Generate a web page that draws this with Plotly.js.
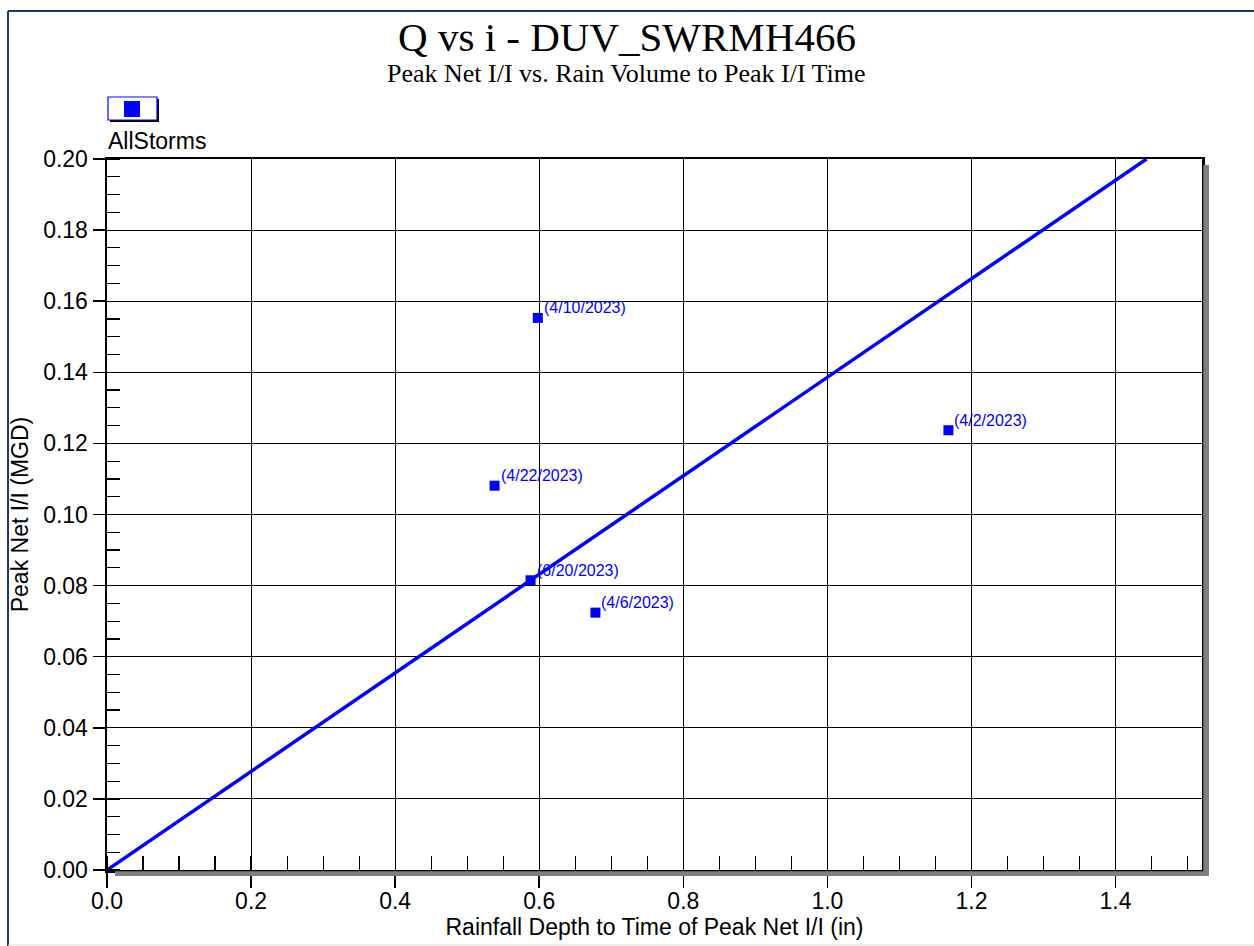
<!DOCTYPE html>
<html>
<head>
<meta charset="utf-8">
<script src="https://cdn.plot.ly/plotly-3.0.1.min.js"></script>
<style>
  html, body { margin: 0; padding: 0; background: #ffffff; }
  #chart { width: 1254px; height: 946px; }
</style>
</head>
<body>
<div id="chart"></div>
<script>
// ---- data ----
const stormLabels = ["(4/10/2023)", "(4/2/2023)", "(4/22/2023)", "(6/20/2023)", "(4/6/2023)"];
const rainDepth   = [0.598, 1.168, 0.538, 0.588, 0.678];   // inches
const peakNetII   = [0.1553, 0.1237, 0.1081, 0.0815, 0.0724]; // MGD
const fitX = [0, 1.443];
const fitY = [0, 0.200];
const seriesName = "AllStorms";

// ---- layout geometry ----
const W = 1254, H = 946;
const M = { l: 107, r: 52, t: 159, b: 76 };
const PW = W - M.l - M.r, PH = H - M.t - M.b;
const px2x = px => (px - M.l) / PW;
const px2y = py => (H - M.b - py) / PH;

const blue = "#0000ff";
const sans = "Liberation Sans, Arial, sans-serif";
const serif = "Liberation Serif, Times New Roman, serif";

const traces = [
  {
    x: fitX, y: fitY, mode: "lines", type: "scatter",
    line: { color: blue, width: 3.5 }, hoverinfo: "skip", showlegend: false
  },
  {
    x: rainDepth, y: peakNetII, mode: "markers", type: "scatter",
    name: seriesName, text: stormLabels,
    marker: { symbol: "square", size: 10, color: blue },
    cliponaxis: false, showlegend: false
  }
];

const shapes = [
  // plot shadow (right and bottom strips)
  { type: "rect", xref: "paper", yref: "paper", layer: "above",
    x0: px2x(1203.3), x1: px2x(1209), y0: px2y(876), y1: px2y(165),
    fillcolor: "#808080", line: { width: 0 } },
  { type: "rect", xref: "paper", yref: "paper", layer: "above",
    x0: px2x(115), x1: px2x(1209), y0: px2y(876), y1: px2y(871.3),
    fillcolor: "#808080", line: { width: 0 } },
  // outer frame (navy left & top, light bottom)
  { type: "line", xref: "paper", yref: "paper",
    x0: px2x(8), x1: px2x(8), y0: px2y(946), y1: px2y(11),
    line: { color: "#1b3a66", width: 2 } },
  { type: "line", xref: "paper", yref: "paper",
    x0: px2x(8), x1: px2x(1254), y0: px2y(11), y1: px2y(11),
    line: { color: "#1b3a66", width: 2 } },
  { type: "line", xref: "paper", yref: "paper",
    x0: px2x(8), x1: px2x(1254), y0: px2y(945), y1: px2y(945),
    line: { color: "#dddddd", width: 1 } },
  // legend box shadow, box, marker
  { type: "rect", xref: "paper", yref: "paper",
    x0: px2x(110), x1: px2x(159), y0: px2y(122), y1: px2y(99),
    fillcolor: "#000000", line: { width: 0 } },
  { type: "rect", xref: "paper", yref: "paper",
    x0: px2x(108), x1: px2x(157), y0: px2y(120), y1: px2y(97),
    fillcolor: "#ffffff", line: { color: blue, width: 1.2 } },
  { type: "rect", xref: "paper", yref: "paper",
    x0: px2x(124), x1: px2x(140), y0: px2y(117), y1: px2y(101),
    fillcolor: blue, line: { width: 0 } }
];

const annotations = [
  { text: "Peak Net I/I vs. Rain Volume to Peak I/I Time", xref: "paper", yref: "paper",
    x: px2x(626), y: px2y(73), xanchor: "center", yanchor: "middle", showarrow: false,
    font: { family: serif, size: 26, color: "#000000" } },
  { text: seriesName, xref: "paper", yref: "paper",
    x: px2x(106), y: px2y(141), xanchor: "left", yanchor: "middle", showarrow: false,
    font: { family: sans, size: 23, color: "#000000" } }
];
// point labels, placed by the data scales
stormLabels.forEach((lab, i) => {
  annotations.push({
    text: lab, xref: "x", yref: "y", x: rainDepth[i], y: peakNetII[i],
    xanchor: "left", yanchor: "middle", xshift: 4, yshift: 10, showarrow: false,
    font: { family: sans, size: 16, color: blue }
  });
});

const axisCommon = {
  showgrid: true, gridcolor: "#000000", gridwidth: 1,
  showline: true, linecolor: "#000000", linewidth: 2.5, mirror: true,
  zeroline: false, ticks: "outside", tickcolor: "#000000", tickwidth: 1.5,
  tickfont: { family: sans, size: 23, color: "#000000" },
  fixedrange: true
};

const layout = {
  width: W, height: H,
  margin: M,
  paper_bgcolor: "#ffffff", plot_bgcolor: "#ffffff",
  showlegend: false,
  title: {
    text: "Q vs i - DUV_SWRMH466",
    font: { family: serif, size: 41, color: "#000000" },
    xref: "container", x: 0.5, xanchor: "center",
    yref: "container", y: 1 - 37 / H, yanchor: "middle"
  },
  xaxis: Object.assign({}, axisCommon, {
    range: [0, 1.52], dtick: 0.2, tick0: 0, tickformat: ".1f", ticklen: 15,
    ticklabelstandoff: -6,
    minor: { ticks: "inside", dtick: 0.05, ticklen: 14, tickcolor: "#000000", tickwidth: 1.2, showgrid: false },
    title: { text: "Rainfall Depth to Time of Peak Net I/I (in)", standoff: 6,
             font: { family: sans, size: 23, color: "#000000" } }
  }),
  yaxis: Object.assign({}, axisCommon, {
    range: [0, 0.2], dtick: 0.02, tick0: 0, tickformat: ".2f", ticklen: 12,
    minor: { ticks: "inside", dtick: 0.005, ticklen: 13, tickcolor: "#000000", tickwidth: 1.2, showgrid: false },
    title: { text: "Peak Net I/I (MGD)", standoff: 8,
             font: { family: sans, size: 23, color: "#000000" } }
  }),
  shapes: shapes,
  annotations: annotations
};

Plotly.newPlot("chart", traces, layout, { displayModeBar: false, staticPlot: true });
</script>
</body>
</html>
